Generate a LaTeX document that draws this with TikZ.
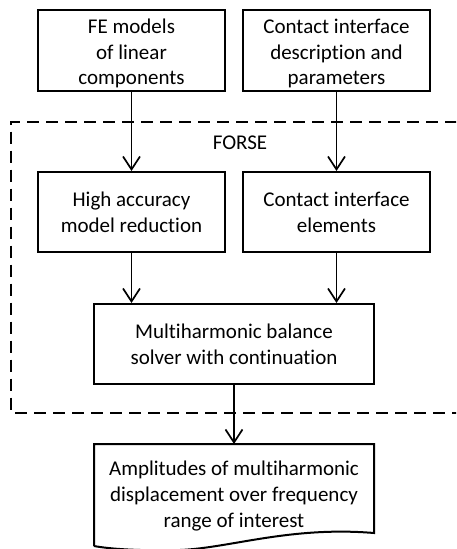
\documentclass[tikz,border=0pt]{standalone}
\usepackage{fontspec}
\setmainfont{Carlito}[Ligatures=CommonOff]
\usetikzlibrary{arrows.meta}
\begin{document}
\begin{tikzpicture}[x=1pt,y=-1pt,
  txt/.style={font=\fontsize{21}{25.7}\selectfont},
  label3/.style={txt,align=center,inner sep=0pt},
  box/.style={draw,line width=2pt,align=center,txt,inner sep=0pt},
  conn/.style={line width=1.7pt,-{Straight Barb[length=13pt,width=17pt,line width=1.7pt]}},
  frame/.style={line width=2pt,dash pattern=on 12pt off 7pt}]
\clip (0,0) rectangle (456,549);
\useasboundingbox (0,0) rectangle (456,549);
\fill[white] (0,0) rectangle (456,549);
% dashed FORSE frame
\draw[frame] (456.8,121.5) -- (11,121.5) -- (11,412.5) -- (456.8,412.5);
\node[txt] (forse) at (240,143) {FORSE};
% boxes
\node[box,minimum width=187pt,minimum height=81pt] (fe) at (131.5,50.5) {};
\node[label3] (fetext) at (131.5,53.5) {FE models\\of linear\\components};
\node[box,minimum width=187pt,minimum height=81pt] (ci) at (336.5,50.5) {};
\node[label3] (citext) at (336.5,53.5) {Contact interface\\description and\\parameters};
\node[box,minimum width=187pt,minimum height=80pt] (har) at (131.5,212) {High accuracy\\model reduction};
\node[box,minimum width=187pt,minimum height=80pt] (cie) at (336.5,212) {Contact interface\\elements};
\node[box,minimum width=280pt,minimum height=80pt] (mhb) at (234,344) {Multiharmonic balance\\solver with continuation};
% document shape
\node[label3] (amp) at (234,496) {Amplitudes of multiharmonic\\displacement over frequency\\range of interest};
\coordinate (ampTop) at (234,444);
\draw[line width=2pt,line join=miter] (94,546) -- (94,444) -- (374,444) -- (374,533) .. controls (290,526) and (230,548) .. (180,550) .. controls (140,551) and (110,549) .. (94,546);
% connectors
\draw[conn] (fe.south) -- (har.north);
\draw[conn] (ci.south) -- (cie.north);
\draw[conn] (har.south) -- (har.south |- mhb.north);
\draw[conn] (cie.south) -- (cie.south |- mhb.north);
\draw[conn] (mhb.south) -- (ampTop);
\end{tikzpicture}
\end{document}
